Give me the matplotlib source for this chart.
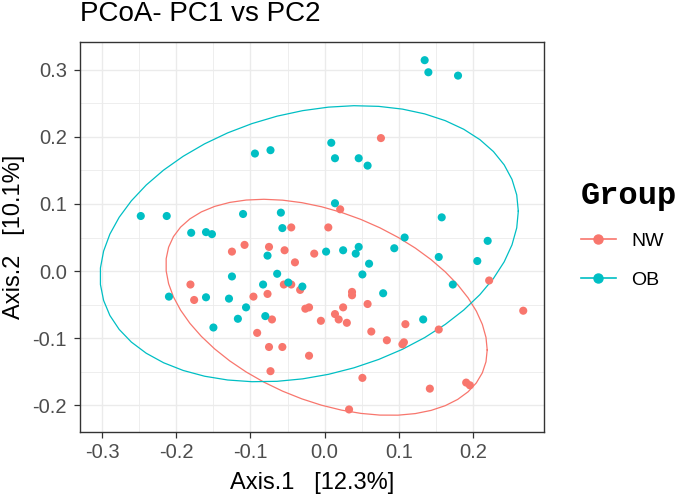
import numpy as np
import matplotlib
matplotlib.use("Agg")
import matplotlib.pyplot as plt
from matplotlib.lines import Line2D

# PCoA coordinates
nw_axis1 = [0.076, 0.021, -0.045, 0.005, -0.108, -0.125, -0.075, -0.054, -0.014, -0.040,
            -0.055, -0.045, -0.033, -0.077, -0.096, -0.181, -0.176, -0.026, -0.021, -0.071,
            -0.005, -0.091, -0.075, -0.057, -0.021, -0.073, 0.222, 0.037, 0.037, 0.058,
            0.025, 0.014, 0.019, 0.030, 0.109, 0.063, 0.154, 0.084, 0.107, 0.105,
            0.268, 0.051, 0.142, 0.191, 0.196, 0.033]
nw_axis2 = [0.198, 0.092, 0.065, 0.065, 0.039, 0.029, 0.036, 0.031, 0.026, 0.013,
            -0.020, -0.020, -0.028, -0.034, -0.038, -0.020, -0.043, -0.056, -0.054, -0.072,
            -0.074, -0.092, -0.113, -0.113, -0.126, -0.149, -0.014, -0.031, -0.036, -0.049,
            -0.054, -0.064, -0.072, -0.077, -0.079, -0.090, -0.087, -0.103, -0.106, -0.109,
            -0.059, -0.159, -0.175, -0.166, -0.170, -0.206]

ob_axis1 = [0.135, 0.140, 0.180, 0.009, 0.014, 0.046, 0.058, -0.094, -0.073, -0.248,
            -0.213, -0.110, -0.059, -0.057, -0.180, -0.160, -0.152, 0.014, 0.158, 0.108,
            0.220, -0.077, 0.002, 0.025, 0.046, 0.042, 0.094, 0.154, 0.206, 0.060,
            0.051, -0.125, -0.064, -0.083, -0.049, -0.030, 0.173, 0.079, -0.210, -0.160,
            -0.129, -0.106, -0.117, -0.080, -0.150, 0.133]
ob_axis2 = [0.314, 0.296, 0.291, 0.191, 0.168, 0.168, 0.157, 0.175, 0.180, 0.082,
            0.082, 0.085, 0.087, 0.064, 0.057, 0.058, 0.055, 0.101, 0.080, 0.050,
            0.045, 0.023, 0.029, 0.031, 0.036, 0.026, 0.034, 0.021, 0.015, 0.011,
            -0.005, -0.008, -0.004, -0.020, -0.017, -0.023, -0.020, -0.033, -0.038, -0.039,
            -0.041, -0.054, -0.071, -0.067, -0.084, -0.072]

groups = ["NW", "OB"]
group_colors = {"NW": "#F8766D", "OB": "#00BFC4"}

x_ticks = [-0.3, -0.2, -0.1, 0.0, 0.1, 0.2]
x_tick_labels = ["-0.3", "-0.2", "-0.1", "0.0", "0.1", "0.2"]
y_ticks = [-0.2, -0.1, 0.0, 0.1, 0.2, 0.3]
y_tick_labels = ["-0.2", "-0.1", "0.0", "0.1", "0.2", "0.3"]


def cov_trob(xy, nu=5, maxit=25, tol=0.01):
    # same iteration as MASS::cov.trob (what stat_ellipse uses by default)
    n, p = xy.shape
    wt = np.ones(n)
    loc = xy.mean(axis=0)
    w = np.sqrt(wt)
    for _ in range(maxit):
        w0 = w
        X = xy - loc
        _, d, vt = np.linalg.svd(np.sqrt(w / w.sum())[:, None] * X, full_matrices=False)
        wX = X @ vt.T @ np.diag(1 / d)
        Q = (wX ** 2).sum(axis=1)
        w = wt * (nu + p) / (nu + Q)
        loc = (w[:, None] * xy).sum(axis=0) / w.sum()
        if np.all(np.abs(w - w0) < tol):
            break
    sX = np.sqrt(w)[:, None] * X
    return loc, sX.T @ sX / wt.sum()


def t_ellipse(x, y, level=0.95, segments=51):
    xy = np.column_stack([x, y])
    center, shape = cov_trob(xy)
    dfn, dfd = 2, len(x) - 1
    qf = dfd / 2 * ((1 - level) ** (-2 / dfd) - 1)  # F quantile, dfn = 2
    radius = np.sqrt(dfn * qf)
    angles = np.linspace(0, 2 * np.pi, segments + 1)
    circle = np.column_stack([np.cos(angles), np.sin(angles)])
    pts = center + radius * circle @ np.linalg.cholesky(shape).T
    return pts[:, 0], pts[:, 1]


plt.rcParams["font.family"] = ["Liberation Sans", "DejaVu Sans"]

fig = plt.figure(figsize=(6.85, 5.0), dpi=100)
ax = fig.add_axes([80 / 685, 1 - 432.3 / 500, 464 / 685, 390.6 / 500])

data = {"NW": (nw_axis1, nw_axis2), "OB": (ob_axis1, ob_axis2)}
for g in groups:
    gx, gy = data[g]
    ax.scatter(gx, gy, s=34, color=group_colors[g], edgecolors="none", zorder=3)
for g in groups:
    gx, gy = data[g]
    ex, ey = t_ellipse(np.array(gx), np.array(gy))
    ax.plot(ex, ey, color=group_colors[g], lw=0.9, zorder=2)

ax.set_xlim(-0.330, 0.296)
ax.set_ylim(-0.240, 0.3415)
ax.set_xticks(x_ticks)
ax.set_xticklabels(x_tick_labels)
ax.set_yticks(y_ticks)
ax.set_yticklabels(y_tick_labels)
ax.set_xticks(np.array(x_ticks[:-1]) + 0.05, minor=True)
ax.set_yticks(np.array(y_ticks[:-1]) + 0.05, minor=True)
ax.set_axisbelow(True)
ax.grid(which="major", color="#EBEBEB", lw=1.0)
ax.grid(which="minor", color="#EBEBEB", lw=0.6)
ax.tick_params(which="major", length=4.3, width=0.9, color="#333333",
               labelcolor="#4D4D4D", labelsize=14.5)
ax.tick_params(axis="x", pad=3.5)
ax.tick_params(axis="y", pad=5)
ax.tick_params(which="minor", length=0)
for sp in ax.spines.values():
    sp.set_color("#333333")
    sp.set_linewidth(1.0)

ax.set_xlabel("Axis.1   [12.3%]", fontsize=17, va="center")
ax.xaxis.set_label_coords(0.5, -0.13)
ax.set_ylabel("Axis.2   [10.1%]", fontsize=17, va="center")
ax.yaxis.set_label_coords(-0.143, 0.5)

fig.text(80 / 685, 1 - 14 / 500, "PCoA- PC1 vs PC2", fontsize=20, ha="left", va="center")

handles = [Line2D([], [], color=group_colors[g], marker="o", markersize=6.5, lw=1.2)
           for g in groups]
fig.legend(handles, groups, loc="upper left", bbox_to_anchor=(563 / 685, 1 - 163 / 500),
           frameon=False, fontsize=14, handlelength=1.8, handletextpad=0.8,
           labelspacing=1.1, alignment="left",
           title="Group", title_fontproperties={"family": "Liberation Mono",
                                                "weight": "bold", "size": 23})

fig.savefig("out.png", dpi=100)
